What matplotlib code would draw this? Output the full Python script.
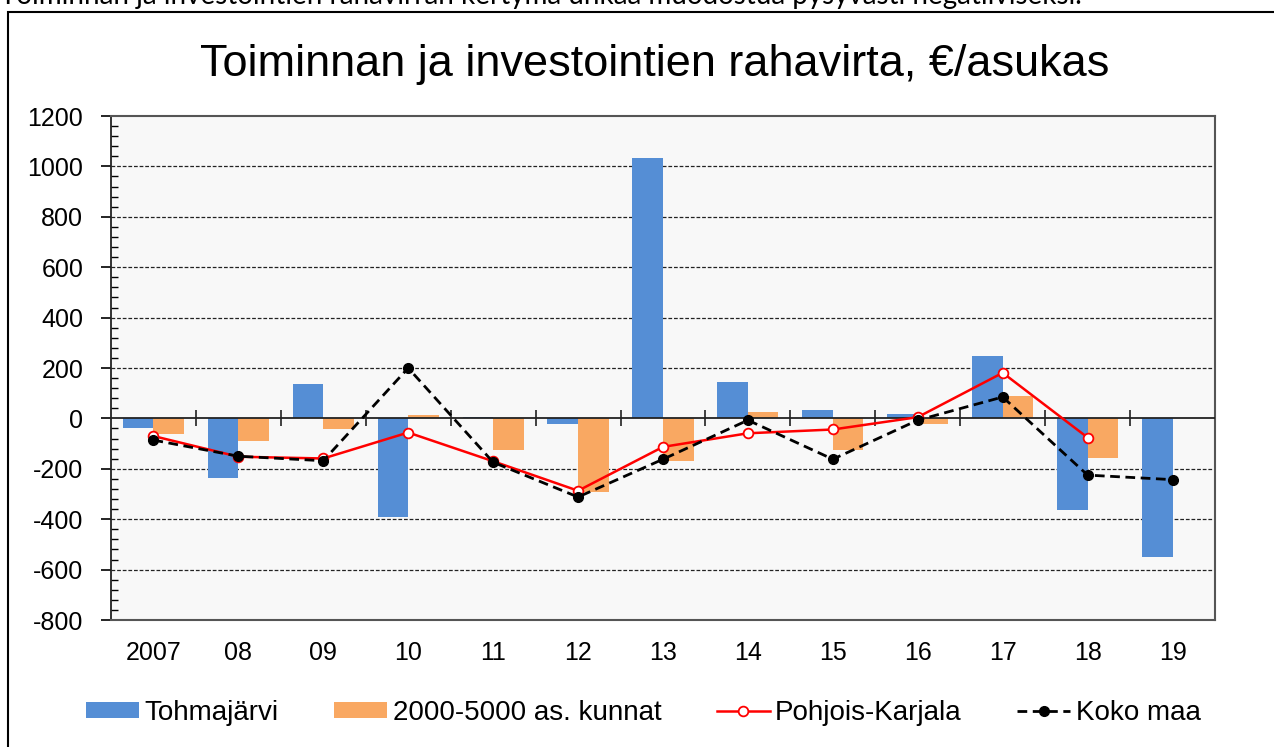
import numpy as np
import matplotlib.pyplot as plt
from matplotlib.patches import Rectangle
from matplotlib.ticker import MultipleLocator

plt.rcParams["font.family"] = ["Liberation Sans", "DejaVu Sans"]
plt.rcParams["axes.unicode_minus"] = False

years = ["2007", "08", "09", "10", "11", "12", "13", "14", "15", "16", "17", "18", "19"]
tohmajarvi = [-40, -238, 136, -390, 7, -24, 1034, 143, 32, 19, 247, -362, -551]
kunnat = [-60, -90, -41, 12, -126, -294, -170, 25, -126, -24, 88, -159, np.nan]
pohjois_karjala = [-70, -152, -159, -56, -170, -287, -113, -59, -44, 5, 181, -76, np.nan]
koko_maa = [-86, -150, -168, 200, -174, -312, -162, -7, -162, -7, 85, -225, -243]

blue = "#558ED5"
orange = "#F9A862"

fig = plt.figure(figsize=(12.74, 7.47), dpi=100)
ax = fig.add_axes([0.0871, 0.170, 0.8666, 0.6747])
ax.set_facecolor("#f8f8f8")

x = np.arange(len(years))
w = 0.36

b1 = ax.bar(x - w / 2, tohmajarvi, w, color=blue, label="Tohmajärvi", zorder=2)
b2 = ax.bar(x + w / 2, kunnat, w, color=orange, label="2000-5000 as. kunnat", zorder=2)

ax.axhline(0, color="#222222", lw=1.3, zorder=3)
# category separator ticks on the zero line
ax.plot(x[:-1] + 0.5, np.zeros(len(x) - 1), ls="none", marker="|",
        ms=12, mew=1.2, color="#222222", zorder=3)

l1, = ax.plot(x, pohjois_karjala, color="#ff0000", lw=1.8, marker="o", ms=7,
              mfc="white", mec="#ff0000", mew=1.3, label="Pohjois-Karjala", zorder=4)
l2, = ax.plot(x, koko_maa, color="black", lw=2.0, ls=(0, (3.5, 2)), marker="o", ms=7,
              mfc="black", mec="black", label="Koko maa", zorder=5)

ax.set_xlim(-0.5, len(years) - 0.5)
ax.set_ylim(-800, 1200)
ax.yaxis.set_major_locator(MultipleLocator(200))
ax.yaxis.set_minor_locator(MultipleLocator(40))
ax.set_xticks(x)
ax.set_xticklabels(years)

ax.tick_params(axis="x", length=0, pad=15, labelsize=18)
ax.tick_params(axis="y", which="major", direction="out", length=7, width=1.2,
               pad=13, labelsize=18)
ax.tick_params(axis="y", which="minor", direction="in", length=5, width=1.0)

for yv in range(-600, 1200, 200):
    if yv != 0:
        ax.axhline(yv, color="#222222", lw=0.9, ls=(0, (3, 1.5)), zorder=1)

for s in ["top", "right", "bottom"]:
    ax.spines[s].set_color("#555555")
    ax.spines[s].set_linewidth(1.5)
ax.spines["left"].set_color("#222222")
ax.spines["left"].set_linewidth(1.3)

fig.text(0.514, 0.913, "Toiminnan ja investointien rahavirta, €/asukas",
         ha="center", va="center", fontsize=32.5)

fig.legend([b1, b2, l1, l2],
           ["Tohmajärvi", "2000-5000 as. kunnat", "Pohjois-Karjala", "Koko maa"],
           loc="center", bbox_to_anchor=(0.505, 0.046), ncol=4, frameon=False,
           fontsize=20, handlelength=1.9, handletextpad=0.2, columnspacing=2.0,
           handleheight=0.5)

# figure frame (top and left edges visible)
fig.add_artist(Rectangle((8 / 1274, -0.1), 1.2, 1.1 - 12 / 747,
                         transform=fig.transFigure, fill=False,
                         edgecolor="black", lw=1.5))

# cut-off line of text from the page above
fig.text(0.0, 1 - 4 / 747,
         "Toiminnan ja investointien rahavirran kertymä uhkaa muodostua pysyvästi negatiiviseksi.",
         ha="left", va="baseline", fontsize=20, family=["Lato", "DejaVu Sans"])

fig.savefig("out.png", dpi=100)
